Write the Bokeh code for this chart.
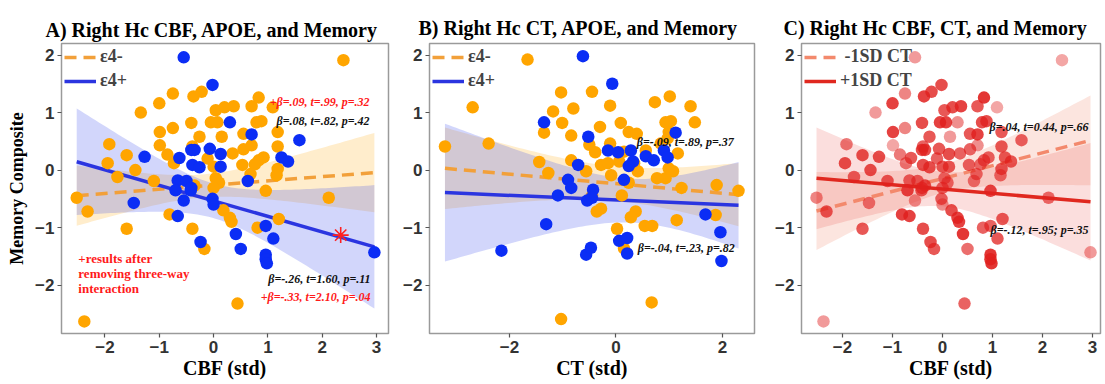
import numpy as np
from bokeh.plotting import figure
from bokeh.layouts import row
from bokeh.models import Label, Legend, LegendItem, Range1d, FixedTicker
from bokeh.embed import file_html
from bokeh.resources import INLINE

# ---------------- data ----------------
# Panel A / C : right Hc CBF (std) vs memory composite
a_neg_cbf = [2.39, -1.34, -1.00, -0.75, -0.37, -0.22, -1.92, -1.95, -1.60, -1.44, -1.77, -1.10, -0.99, -0.75, -0.99,
             -0.85, -0.73, -0.41, -0.26, -0.11, -0.05, 0.07, 0.04, 0.20, 0.37, 0.15, 0.00, 0.04, 0.10, 0.35, 0.53,
             0.55, 0.70, 0.70, 0.83, 0.79, 0.88, 1.09, 1.18, 1.18, 1.18, 1.16, 0.92, 0.83, 0.76, 0.68, 0.96, 2.12,
             -2.52, -0.39, -0.35, -2.32, -1.60, -0.81, -0.39, -0.17, 0.18, 0.30, 0.33, 0.81, 1.20, 0.44, -2.38,
             0.00, 0.55]
a_neg_mem = [1.91, 1.00, 1.16, 1.33, 1.28, 1.36, 0.45, 0.12, 0.26, 0.00, -0.12, -0.19, 0.66, 0.73, 0.43,
             0.27, 0.12, 0.82, 0.58, 0.20, 0.83, 0.83, 1.04, 1.09, 1.11, 0.58, 0.06, -0.14, -0.22, 0.29, 0.09,
             0.36, 0.43, 1.11, 1.26, 0.83, 0.85, 1.09, 0.66, 0.41, 0.02, -0.09, 0.22, 0.17, 0.10, -0.07, -0.36, -0.48,
             -0.48, 0.41, -0.27, -0.72, -1.02, -0.77, -1.02, -1.37, -0.70, -0.83, -0.90, -1.00, -0.85, -2.32, -2.63,
             -0.31, 0.63]
a_pos_cbf = [-0.55, -0.02, 0.30, 0.70, 1.58, -1.27, -0.63, -0.41, -0.35, -0.07, 0.13, 0.13, -0.39, -0.26, -0.66,
             -0.70, -0.42, 0.63, 1.25, 1.37, -1.47, -0.55, -0.02, 0.00, -0.66, -0.24, 0.41, 0.50, 0.96, 1.10, 0.96,
             0.96, 0.98, 2.96, -0.50, -0.41]
a_pos_mem = [1.96, 1.48, 0.83, 0.62, 0.52, 0.23, 0.21, 0.35, 0.35, 0.37, 0.28, 0.06, 0.09, 0.05, -0.18,
             -0.35, -0.35, -0.19, 0.22, 0.15, -0.57, -0.53, -0.50, -0.60, -0.80, -1.25, -1.11, -1.37, -0.97, -1.19,
             -1.47, -1.55, -1.62, -1.43, -0.19, -0.31]
# panel C opacity of each subject (same order: e4- then e4+)
c_alpha_neg = [0.4, 0.45, 0.85, 0.55, 0.85, 0.8, 0.6, 0.8, 0.8, 0.8, 0.7, 0.75, 0.85, 0.55, 0.4, 0.6, 0.6,
               0.8, 0.75, 0.7, 0.85, 0.85, 0.75, 0.8, 0.85, 0.45, 0.75, 0.65, 0.65, 0.7, 0.7, 0.7, 0.5,
               0.75, 0.9, 0.8, 0.8, 0.4, 0.75, 0.75, 0.75, 0.65, 0.7, 0.7, 0.65, 0.65, 0.85,
               0.65, 0.55, 0.7, 0.8, 0.75, 0.75, 0.85, 0.8, 0.75, 0.8, 0.85, 0.85, 0.7, 0.75, 0.7, 0.45, 0.7, 0.75]
c_alpha_pos = [0.45, 0.8, 0.5, 0.85, 0.7, 0.8, 0.75, 0.8, 0.8, 0.75, 0.8, 0.75, 0.8, 0.8, 0.7, 0.85, 0.75, 0.6,
               0.75, 0.75, 0.6, 0.5, 0.7, 0.5, 0.85, 0.8, 0.9, 0.65, 0.7, 0.75, 0.9, 0.9, 0.9, 0.45, 0.7, 0.75]

# Panel B : right Hc CT (std) vs memory composite
b_neg_ct = [-1.66, -2.69, -1.03, -0.45, -1.18, -0.80, -1.01, -0.11, -0.30, 0.09, 0.24, 0.39, 0.73, 1.01, 1.40,
            1.48, 0.93, 1.03, 0.99, -1.35, -0.84, -3.21, -2.39, -1.44, -1.27, -0.84, -0.56, -0.50, -0.39, -0.11,
            -0.28, -0.15, -0.09, 0.06, 0.15, 0.41, 0.56, 0.84, 0.97, 1.16, 1.07, 0.93, 0.77, 1.23, 1.89, 2.30,
            0.34, 0.24, 0.37, 0.28, 0.54, 0.68, 0.99, 1.14, 1.87, -0.36, -0.28, -0.45, 0.11, 0.15, 0.02, -1.03, 0.67]
b_neg_mem = [1.92, 1.09, 1.35, 1.36, 1.02, 1.07, 0.82, 1.12, 0.75, 0.82, 0.66, 0.63, 1.18, 1.28, 1.11,
             0.83, 0.83, 0.85, 0.66, 0.65, 0.60, 0.41, 0.46, 0.14, -0.05, 0.17, -0.02, 0.44, 0.31, 0.46,
             0.09, 0.12, -0.09, 0.15, 0.32, -0.02, 0.34, 0.46, 0.55, 0.29, -0.02, -0.14, -0.14, -0.31, -0.26, -0.36,
             0.12, -0.22, -0.72, -0.82, -0.97, -0.97, 0.03, -0.87, -0.78, -0.72, -0.67, -0.45, -0.44, -1.36, -1.02,
             -2.59, -2.30]
b_pos_ct = [-0.62, -0.07, -1.35, 1.12, -0.52, -0.71, -0.15, 0.04, 0.28, 0.32, 0.24, 0.56, 0.71, 0.90, 0.97, 0.15,
            -0.90, -0.84, -0.43, -1.09, -0.54, -0.45, -1.31, 1.68, 1.96, -2.15, -0.56, -0.47, 0.06, 0.21, 0.21, 1.98]
b_pos_mem = [1.98, 1.50, 0.83, 0.65, 0.58, 0.09, 0.34, 0.31, 0.34, 0.15, 0.07, 0.24, 0.17, 0.34, 0.22, -0.17,
             -0.17, -0.31, -0.34, -0.44, -0.53, -0.48, -0.94, -0.77, -1.08, -1.40, -1.47, -1.35, -1.23, -1.18,
             -1.45, -1.58]

# fitted lines: [intercept, slope]; bands: [centre x, half-width at centre, growth]
fit_a_neg = [-0.26, 0.073];   band_a_neg = [-0.2, 0.20, 0.209]
fit_a_pos = [-0.535, -0.27];  band_a_pos = [0.0, 0.30, 0.348]
fit_b_neg = [-0.236, -0.083]; band_b_neg = [0.0, 0.30, 0.20]
fit_b_pos = [-0.52, -0.04];   band_b_pos = [0.3, 0.38, 0.324]
fit_c_low = [-0.147, 0.224];  band_c_low = [0.0, 0.25, 0.25]
fit_c_high = [-0.33, -0.0745]; band_c_high = [0.0, 0.30, 0.33]

star_x = [2.34]
star_y = [-1.13]

xticks_cbf = [-2, -1, 0, 1, 2, 3]
xticks_ct = [-2, 0, 2]
yticks = [-2, -1, 0, 1, 2]

# ---------------- styling ----------------
ORANGE = "#FFA500"
ORANGE_LINE = "#F2A03A"
BLUE = "#0B2DF5"
BLUE_LINE = "#2B35E0"
RED = "#E0201E"
RED_LINE = "#E0281F"
SALMON = "#F3896C"
SERIF = "Liberation Serif"
SANS = "Liberation Sans"


def make_fig(width, left, right, top, bottom, xr, title, toff, tstand):
    p = figure(width=width, height=384, output_backend="svg", toolbar_location=None,
               x_range=Range1d(*xr), y_range=Range1d(-2.84, 2.2),
               min_border_left=left, min_border_right=right, min_border_top=top, min_border_bottom=bottom)
    p.title.text = title
    p.title.text_font = SERIF
    p.title.text_font_style = "bold"
    p.title.text_font_size = "20px"
    p.title.text_color = "black"
    p.title.align = "left"
    p.title.offset = toff
    p.title.standoff = tstand
    p.xgrid.visible = False
    p.ygrid.visible = False
    p.outline_line_color = "#9a9a9a"
    p.outline_line_width = 1.5
    for ax in (p.xaxis[0], p.yaxis[0]):
        ax.axis_line_color = None
        ax.major_tick_line_color = "#555555"
        ax.major_tick_line_width = 1.2
        ax.major_tick_out = 4
        ax.major_tick_in = 0
        ax.minor_tick_line_color = None
        ax.major_label_text_font = SANS
        ax.major_label_text_font_style = "bold"
        ax.major_label_text_font_size = "17px"
        ax.major_label_text_color = "#333333"
        ax.major_label_standoff = 3
        ax.axis_label_text_font = SERIF
        ax.axis_label_text_font_style = "bold"
        ax.axis_label_text_color = "black"
    p.yaxis.ticker = FixedTicker(ticks=yticks)
    p.xaxis.axis_label_text_font_size = "20px"
    p.xaxis.axis_label_standoff = 1
    return p


def add_band(p, xs_data, fit, band, color, alpha):
    xs = np.linspace(min(xs_data), max(xs_data), 80)
    yc = fit[0] + fit[1] * xs
    hw = np.sqrt(band[1] ** 2 + (band[2] * (xs - band[0])) ** 2)
    p.varea(x=xs, y1=yc - hw, y2=yc + hw, fill_color=color, fill_alpha=alpha)


def add_line(p, xs_data, fit, color, dash):
    xs = np.array([min(xs_data), max(xs_data)])
    return p.line(xs, fit[0] + fit[1] * xs, line_color=color, line_width=3.5, line_dash=dash)


def add_legend(p, items):
    lg = Legend(items=[LegendItem(label=l, renderers=[r]) for l, r in items],
                location="top_left", border_line_color=None, background_fill_alpha=0,
                label_text_font=SERIF, label_text_font_style="bold", label_text_font_size="18px",
                glyph_width=32, glyph_height=18, label_height=18, spacing=3, padding=2, margin=3,
                label_standoff=4)
    p.add_layout(lg)


def stat(p, x, y, text, color, align, size="12px", style="bold italic"):
    p.add_layout(Label(x=x, y=y, text=text, text_align=align, text_baseline="middle",
                       text_color=color, text_font=SERIF, text_font_style=style, text_font_size=size))


all_cbf = a_neg_cbf + a_pos_cbf
all_mem = a_neg_mem + a_pos_mem
all_ct = b_neg_ct + b_pos_ct

# ---------------- Panel A ----------------
pA = make_fig(400, 61, 12, 38, 51, (-2.8, 3.22), "A) Right Hc CBF, APOE, and Memory", -16, 5)
pA.xaxis.ticker = FixedTicker(ticks=xticks_cbf)
pA.xaxis.axis_label = "CBF (std)"
pA.yaxis.axis_label = "Memory Composite"
pA.yaxis.axis_label_text_font_size = "18px"
pA.yaxis.axis_label_standoff = 5
add_band(pA, all_cbf, fit_a_neg, band_a_neg, ORANGE, 0.2)
add_band(pA, all_cbf, fit_a_pos, band_a_pos, "#3344EE", 0.22)
lA1 = add_line(pA, all_cbf, fit_a_neg, ORANGE_LINE, "12 7")
lA2 = add_line(pA, all_cbf, fit_a_pos, BLUE_LINE, "solid")
pA.scatter(a_neg_cbf, a_neg_mem, size=12.5, fill_color=ORANGE, line_color=None)
pA.scatter(a_pos_cbf, a_pos_mem, size=12.5, fill_color=BLUE, line_color=None)
pA.scatter(star_x, star_y, marker="asterisk", size=16, line_color="#FF2020", line_width=1.6)
add_legend(pA, [("ε4-", lA1), ("ε4+", lA2)])
stat(pA, 2.87, 1.19, "+β=.09, t=.99, p=.32", "#FF1A1A", "right")
stat(pA, 2.87, 0.85, "β=.08, t=.82, p=.42", "#111111", "right")
stat(pA, 2.89, -1.89, "β=-.26, t=1.60, p=.11", "#111111", "right")
stat(pA, 2.89, -2.20, "+β=-.33, t=2.10, p=.04", "#FF1A1A", "right")
stat(pA, -2.49, -1.54, "+results after", "#FF1A1A", "left", "13px", "bold")
stat(pA, -2.49, -1.79, "removing three-way", "#FF1A1A", "left", "13px", "bold")
stat(pA, -2.49, -2.05, "interaction", "#FF1A1A", "left", "13px", "bold")

# ---------------- Panel B ----------------
pB = make_fig(370, 28, 16, 43, 47, (-3.5, 2.6), "B) Right Hc CT,  APOE, and Memory", -11, 10)
pB.xaxis.ticker = FixedTicker(ticks=xticks_ct)
pB.xaxis.axis_label = "CT (std)"
add_band(pB, all_ct, fit_b_neg, band_b_neg, ORANGE, 0.2)
add_band(pB, all_ct, fit_b_pos, band_b_pos, "#3344EE", 0.22)
lB1 = add_line(pB, all_ct, fit_b_neg, ORANGE_LINE, "12 7")
lB2 = add_line(pB, all_ct, fit_b_pos, BLUE_LINE, "solid")
pB.scatter(b_neg_ct, b_neg_mem, size=12.5, fill_color=ORANGE, line_color=None)
pB.scatter(b_pos_ct, b_pos_mem, size=12.5, fill_color=BLUE, line_color=None)
add_legend(pB, [("ε4-", lB1), ("ε4+", lB2)])
stat(pB, 0.39, 0.49, "β=-.09, t=.89, p=.37", "#111111", "left")
stat(pB, 0.41, -1.36, "β=-.04, t=.23, p=.82", "#111111", "left")

# ---------------- Panel C ----------------
pC = make_fig(335, 31, 5, 43, 46, (-2.82, 3.16), "C) Right Hc CBF, CT, and Memory", -18, 10)
pC.xaxis.ticker = FixedTicker(ticks=xticks_cbf)
pC.xaxis.axis_label = "CBF (std)"
add_band(pC, all_cbf, fit_c_low, band_c_low, "#F4977E", 0.25)
add_band(pC, all_cbf, fit_c_high, band_c_high, "#E8302A", 0.16)
lC1 = add_line(pC, all_cbf, fit_c_low, SALMON, "12 7")
lC2 = add_line(pC, all_cbf, fit_c_high, RED_LINE, "solid")
pC.scatter(all_cbf, all_mem, size=12.5, fill_color=RED, line_color=None,
           fill_alpha=c_alpha_neg + c_alpha_pos)
add_legend(pC, [(" -1SD CT", lC1), ("+1SD CT", lC2)])
stat(pC, 2.92, 0.75, "β=.04, t=0.44, p=.66", "#111111", "right")
stat(pC, 2.92, -1.04, "β=-.12, t=.95; p=.35", "#111111", "right")

layout = row(pA, pB, pC)
open("out.html", "w").write(file_html(layout, INLINE))
